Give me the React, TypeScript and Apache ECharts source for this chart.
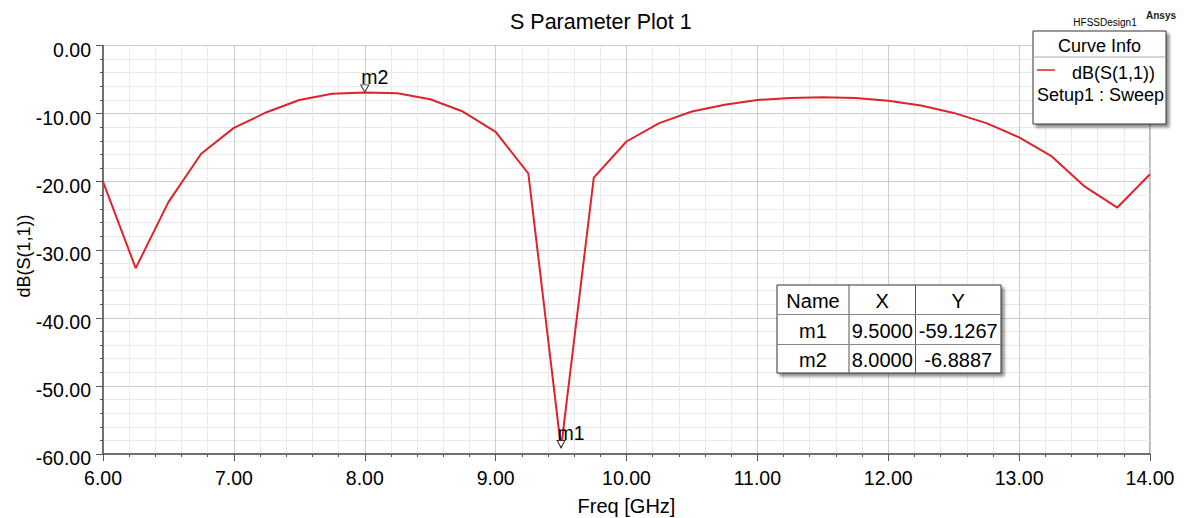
import React, { useEffect, useRef } from "react";
import * as echarts from "echarts";

const freqs = [6.0, 6.25, 6.5, 6.75, 7.0, 7.25, 7.5, 7.75, 8.0, 8.25, 8.5, 8.75, 9.0, 9.25, 9.5, 9.75, 10.0, 10.25, 10.5, 10.75, 11.0, 11.25, 11.5, 11.75, 12.0, 12.25, 12.5, 12.75, 13.0, 13.25, 13.5, 13.75, 14.0];
const s11 = [-20.0, -32.7, -23.0, -15.9, -12.1, -9.8, -8.0, -7.1, -6.8887, -7.0, -7.9, -9.7, -12.7, -18.8, -59.1267, -19.4, -14.1, -11.4, -9.7, -8.7, -8.0, -7.7, -7.6, -7.7, -8.1, -8.8, -9.9, -11.4, -13.5, -16.3, -20.7, -23.8, -18.9];

const markerNames = ["m1", "m2"];
const markerX = [9.5, 8.0];
const markerY = [-59.1267, -6.8887];
const tableHeader = ["Name", "X", "Y"];
const yAxisName = "dB(S(1,1))";

const FONT = "'Liberation Sans', Arial, sans-serif";
const RED = "#de232b";

export default function App() {
  const ref = useRef<HTMLDivElement>(null);
  useEffect(() => {
    if (!ref.current) return;
    const chart = echarts.init(ref.current, undefined, { renderer: "svg" });

    const tL = 777, tT = 285, tR = 1001, tB = 373;
    const colX = [tL, 849, 915.5, tR];
    const rowY = [tT, 314.5, 344.5, tB];
    const tableEls: any[] = [];
    tableEls.push({
      type: "rect", z: 100,
      shape: { x: tL, y: tT, width: tR - tL, height: tB - tT },
      style: { fill: "#fff", stroke: "#333", lineWidth: 1, shadowBlur: 3, shadowOffsetX: 3, shadowOffsetY: 3, shadowColor: "rgba(0,0,0,0.45)" },
    });
    [1, 2].forEach((i) => tableEls.push({ type: "line", z: 101, shape: { x1: colX[i], y1: tT, x2: colX[i], y2: tB }, style: { stroke: "#555", lineWidth: 1 } }));
    [1, 2].forEach((i) => tableEls.push({ type: "line", z: 101, shape: { x1: tL, y1: rowY[i], x2: tR, y2: rowY[i] }, style: { stroke: "#888", lineWidth: 1 } }));
    const rows = [tableHeader, ...markerNames.map((n, i) => [n, markerX[i].toFixed(4), markerY[i].toFixed(4)])];
    rows.forEach((r, ri) => {
      r.forEach((txt, ci) => {
        tableEls.push({
          type: "text", z: 102,
          x: (colX[ci] + colX[ci + 1]) / 2, y: (rowY[ri] + rowY[ri + 1]) / 2 + 1,
          style: { text: txt, fill: "#000", font: `20px ${FONT}`, align: "center", verticalAlign: "middle" },
        });
      });
    });

    const lL = 1033, lT = 31, lR = 1166, lB = 124;
    const legendEls: any[] = [
      {
        type: "rect", z: 100,
        shape: { x: lL, y: lT, width: lR - lL, height: lB - lT },
        style: { fill: "#fff", stroke: "#333", lineWidth: 1, shadowBlur: 3, shadowOffsetX: 3, shadowOffsetY: 3, shadowColor: "rgba(0,0,0,0.45)" },
      },
      { type: "line", z: 101, shape: { x1: lL, y1: 57, x2: lR, y2: 57 }, style: { stroke: "#aaa", lineWidth: 1 } },
      { type: "text", z: 102, x: (lL + lR) / 2, y: 46, style: { text: "Curve Info", fill: "#000", font: `18px ${FONT}`, align: "center", verticalAlign: "middle" } },
      { type: "line", z: 102, shape: { x1: 1037, y1: 70, x2: 1055, y2: 70 }, style: { stroke: RED, lineWidth: 1.5 } },
      { type: "text", z: 102, x: 1072, y: 73, style: { text: "dB(S(1,1))", fill: "#000", font: `18px ${FONT}`, align: "left", verticalAlign: "middle" } },
      { type: "text", z: 102, x: 1037, y: 95, style: { text: "Setup1 : Sweep", fill: "#000", font: `18px ${FONT}`, align: "left", verticalAlign: "middle" } },
      { type: "text", z: 102, x: 1105, y: 22.5, style: { text: "HFSSDesign1", fill: "#000", font: `10px ${FONT}`, align: "center", verticalAlign: "middle" } },
      { type: "text", z: 102, x: 1161, y: 15, style: { text: "Ansys", fill: "#222", font: `bold 10px ${FONT}`, align: "center", verticalAlign: "middle" } },
      { type: "text", z: 102, x: 24, y: 256, rotation: Math.PI / 2, style: { text: yAxisName, fill: "#000", font: `18px ${FONT}`, align: "center", verticalAlign: "middle" } },
    ];

    chart.setOption({
      animation: false,
      backgroundColor: "#fff",
      title: {
        text: "S Parameter Plot 1",
        left: 505,
        top: 6,
        textStyle: { fontFamily: FONT, fontSize: 21.5, fontWeight: "normal", color: "#000" },
      },
      grid: {
        left: 103, right: 34, top: 45.5, bottom: 64,
        containLabel: false,
        outerBoundsMode: "none",
        show: true, borderColor: "#666", borderWidth: 1, backgroundColor: "transparent",
      },
      xAxis: {
        type: "value", min: 6, max: 14, interval: 1,
        name: "Freq [GHz]", nameLocation: "middle", nameGap: 42,
        nameTextStyle: { fontFamily: FONT, fontSize: 20, color: "#000" },
        axisLine: { show: true, onZero: false, lineStyle: { color: "#555", width: 1.5 } },
        axisTick: { show: true, inside: false, length: 7, lineStyle: { color: "#555" } },
        minorTick: { show: true, splitNumber: 5, length: 3, lineStyle: { color: "#555" } },
        axisLabel: { margin: 14, fontFamily: FONT, fontSize: 19.5, color: "#000", formatter: (v: number) => v.toFixed(2) },
        splitLine: { show: true, lineStyle: { color: "#cccccc", width: 1 } },
        minorSplitLine: { show: true, lineStyle: { color: "#eaeaea", width: 1 } },
      },
      yAxis: {
        type: "value", min: -60, max: 0, interval: 10,
        axisLine: { show: true, onZero: false, lineStyle: { color: "#555", width: 1.5 } },
        axisTick: { show: true, inside: false, length: 7, lineStyle: { color: "#555" } },
        minorTick: { show: true, splitNumber: 5, length: 3, lineStyle: { color: "#555" } },
        axisLabel: { margin: 12, verticalAlign: "top", lineHeight: 8, fontFamily: FONT, fontSize: 19.5, color: "#000", formatter: (v: number) => v.toFixed(2) },
        splitLine: { show: true, lineStyle: { color: "#cccccc", width: 1 } },
        minorSplitLine: { show: true, lineStyle: { color: "#eaeaea", width: 1 } },
      },
      series: [
        {
          type: "line",
          data: freqs.map((f, i) => [f, s11[i]]),
          symbol: "none",
          lineStyle: { color: RED, width: 2 },
          itemStyle: { color: RED },
          markPoint: {
            symbol: "triangle",
            symbolSize: [8, 7],
            symbolRotate: 180,
            symbolOffset: [0, -4],
            itemStyle: { color: "#fff", borderColor: "#333", borderWidth: 1 },
            label: {
              show: true, position: "top", distance: 0, offset: [10, 3],
              fontFamily: FONT, fontSize: 19.5, color: "#000",
              formatter: (p: any) => p.name,
            },
            data: markerNames.map((n, i) => ({ name: n, coord: [markerX[i], markerY[i]] })),
          },
        },
      ],
      graphic: [...tableEls, ...legendEls],
    });
    return () => chart.dispose();
  }, []);
  return <div ref={ref} style={{ position: "fixed", left: 0, top: 0, width: 1184, height: 518 }} />;
}
